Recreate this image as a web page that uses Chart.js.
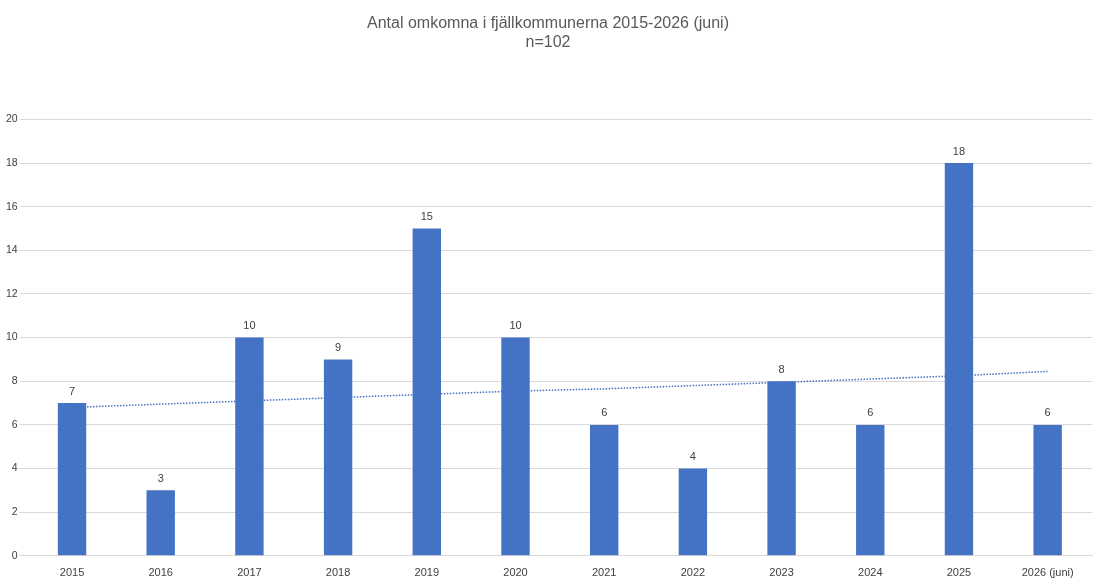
<!DOCTYPE html>
<html><head><meta charset="utf-8">
<script src="https://cdn.jsdelivr.net/npm/chart.js@4"></script>
<style>html,body{margin:0;background:#fff}#w{width:1108px;height:587px}</style>
</head><body><div id="w"><canvas id="c"></canvas></div>
<script>
const categories=["2015","2016","2017","2018","2019","2020","2021","2022","2023","2024","2025","2026 (juni)"];
const deaths=[7,3,10,9,15,10,6,4,8,6,18,6];
const trend=[6.8,6.95,7.1,7.25,7.4,7.55,7.65,7.8,7.95,8.1,8.25,8.45];
const yTicks=[0,2,4,6,8,10,12,14,16,18,20];
const labelPlugin={id:'lbl',afterDatasetsDraw(ch){const m=ch.getDatasetMeta(0);const c=ch.ctx;c.save();c.font='11px "Liberation Sans", Arial';c.fillStyle='#404040';c.textAlign='center';c.textBaseline='bottom';m.data.forEach((b,i)=>c.fillText(deaths[i],b.x,b.y-6));c.restore();}};
new Chart(document.getElementById('c'),{
data:{labels:categories,datasets:[
{type:'bar',data:deaths,backgroundColor:'#4472C4',barPercentage:0.32,categoryPercentage:1,order:2},
{type:'line',data:trend,borderColor:'#4472C4',borderWidth:1.5,borderDash:[1.5,1.5],pointRadius:0,fill:false,order:1}
]},
options:{responsive:true,maintainAspectRatio:false,animation:false,
layout:{padding:{left:4,right:16,top:8,bottom:4}},
plugins:{legend:{display:false},tooltip:{enabled:false},
title:{display:true,text:['Antal omkomna i fjällkommunerna 2015-2026 (juni)','n=102'],color:'#595959',font:{family:'"Liberation Sans", Arial',size:16,weight:'normal'},padding:{top:6,bottom:67}}},
scales:{x:{grid:{display:false},border:{color:'#d9d9d9'},ticks:{color:'#404040',font:{family:'"Liberation Sans", Arial',size:11}}},
y:{min:0,max:20,afterBuildTicks:a=>{a.ticks=yTicks.map(v=>({value:v}))},grid:{color:'#d9d9d9'},border:{display:false},ticks:{color:'#404040',font:{family:'"Liberation Sans", Arial',size:10.5},padding:2}}}},
plugins:[labelPlugin]});
</script></body></html>
